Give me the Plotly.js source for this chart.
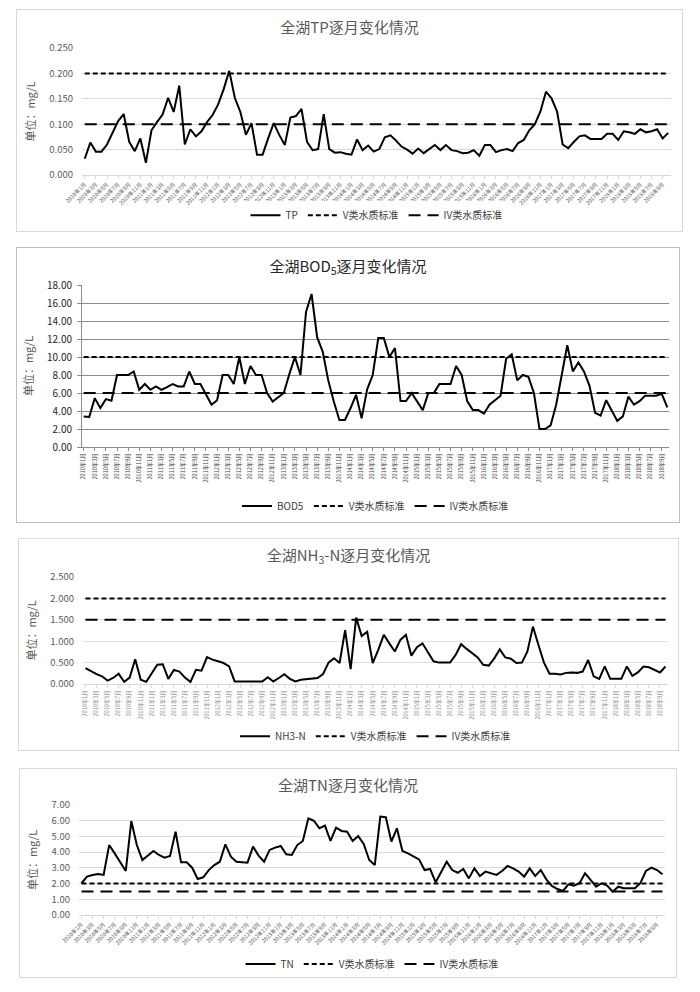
<!DOCTYPE html>
<html><head><meta charset="utf-8">
<script src="https://cdn.plot.ly/plotly-3.0.1.min.js"></script>
<style>
body{margin:0;background:#fff;width:700px;height:992px;position:relative;overflow:hidden}
.panel{position:absolute;box-sizing:border-box;border:1px solid #d9d9d9;background:#fff}
.panel>div{position:absolute;left:0;top:0}
</style></head><body>
<div class="panel" style="left:16px;top:9px;width:667px;height:223px"><div id="c1"></div></div>
<div class="panel" style="left:16px;top:247px;width:664px;height:276px;border-color:#bfbfbf"><div id="c2"></div></div>
<div class="panel" style="left:18px;top:538px;width:661px;height:213px"><div id="c3"></div></div>
<div class="panel" style="left:19px;top:768px;width:658px;height:210px"><div id="c4"></div></div>
<script>
// ---- categories: monthly, 2010年1月 .. 2018年10月 ----
const startYear = 2010, monthCount = 106;
const categories = [];
for (let k = 0; k < monthCount; k++) {
  categories.push((startYear + Math.floor(k / 12)) + '年' + (k % 12 + 1) + '月');
}
const tickLabels = categories.filter((c, k) => k % 2 === 0);

// ---- series values (mg/L) ----
const tpValues = [0.032,0.064,0.046,0.046,0.060,0.083,0.106,0.120,0.065,0.047,0.072,0.024,0.088,0.104,0.119,0.152,0.124,0.176,0.060,0.090,0.076,0.086,0.104,0.118,0.139,0.169,0.205,0.152,0.124,0.079,0.102,0.040,0.040,0.072,0.102,0.079,0.059,0.113,0.116,0.130,0.065,0.049,0.051,0.120,0.051,0.044,0.045,0.042,
0.040,0.070,0.049,0.058,0.046,0.051,0.074,0.078,0.068,0.056,0.050,0.042,0.052,0.043,0.051,0.059,0.049,0.059,0.049,0.047,0.043,0.044,0.049,0.038,0.059,0.059,0.045,0.049,0.051,0.047,0.063,0.069,0.088,0.100,0.125,0.164,0.151,0.125,0.060,0.053,0.065,0.076,0.078,0.071,0.071,0.071,0.081,0.081,0.069,0.086,0.084,0.081,0.090,0.084,0.086,0.090,0.072,0.083];
const bodValues = [3.4,3.33,5.43,4.32,5.32,5.14,8.0,8.0,8.0,8.39,6.36,7.0,6.36,6.73,6.36,6.65,7.0,6.73,6.73,8.39,7.0,7.0,5.9,4.7,5.2,8.0,8.0,7.0,10.0,7.0,9.0,8.0,8.0,6.0,5.06,5.5,6.0,8.1,10.0,8.0,15.0,17.0,12.2,10.6,7.4,5.06,3.0,3.0,4.3,
5.8,3.2,6.4,8.0,12.1,12.1,10.0,11.0,5.1,5.1,6.0,5.1,4.1,6.0,6.0,7.0,7.0,7.0,9.0,8.0,5.1,4.1,4.1,3.7,4.7,5.2,5.7,9.8,10.3,7.4,8.0,7.8,6.0,2.0,2.0,2.4,4.7,8.0,11.3,8.4,9.4,8.4,6.8,3.8,3.5,5.2,4.1,2.9,3.4,5.6,4.7,5.1,5.7,5.7,5.7,5.9,4.4];
const nh3Values = [0.37,0.29,0.23,0.18,0.08,0.14,0.24,0.05,0.15,0.58,0.10,0.05,0.24,0.45,0.46,0.12,0.33,0.29,0.15,0.05,0.33,0.31,0.63,0.57,0.53,0.49,0.41,0.06,0.06,0.06,0.06,0.06,0.06,0.16,0.06,0.14,0.23,0.12,0.06,0.10,0.11,0.12,0.14,0.23,0.50,0.60,0.49,1.26,
0.35,1.55,1.12,1.22,0.49,0.80,1.15,0.95,0.76,1.03,1.15,0.66,0.86,0.95,0.74,0.53,0.50,0.50,0.50,0.68,0.93,0.82,0.72,0.62,0.45,0.43,0.60,0.81,0.62,0.59,0.49,0.50,0.76,1.34,0.91,0.50,0.24,0.24,0.22,0.26,0.27,0.26,0.29,0.56,0.18,0.12,0.41,0.12,0.12,0.12,0.41,0.19,0.27,0.41,0.39,0.33,0.27,0.41];
const tnValues = [2.02,2.44,2.55,2.61,2.55,4.45,3.92,3.35,2.80,5.98,4.45,3.50,3.78,4.07,3.82,3.65,3.75,5.30,3.35,3.35,3.01,2.29,2.40,2.86,3.18,3.39,4.50,3.71,3.39,3.35,3.33,4.35,3.78,3.39,4.14,4.29,4.39,3.86,3.82,4.45,4.71,6.15,6.00,5.52,5.69,4.71,5.56,5.35,5.30,
4.71,5.03,4.52,3.50,3.18,6.26,6.22,4.67,5.52,4.07,3.92,3.71,3.54,2.86,2.93,2.08,2.76,3.39,2.86,2.69,2.93,2.33,2.97,2.48,2.76,2.65,2.55,2.80,3.12,2.97,2.76,2.44,2.97,2.48,2.86,2.27,1.85,1.65,1.53,1.95,1.87,2.02,2.65,2.23,1.80,2.02,1.87,1.48,1.80,1.70,1.70,1.70,2.02,2.80,3.01,2.86,2.59];

// ---- water quality standards (class V / class IV) ----
const tpStandards  = {V: 0.2, IV: 0.1};
const bodStandards = {V: 10,  IV: 6};
const nh3Standards = {V: 2.0, IV: 1.5};
const tnStandards  = {V: 2.0, IV: 1.5};

const FONT = '"Noto Sans CJK SC", "Noto Sans", sans-serif';

function makeChart(id, o) {
  const ends = [categories[0], categories[categories.length - 1]];
  const traces = [
    {x: categories, y: o.values, type: 'scatter', mode: 'lines', name: o.name,
     line: {color: '#000', width: 2}},
    {x: ends, y: [o.std.V, o.std.V], type: 'scatter', mode: 'lines', name: 'V类水质标准',
     line: {color: '#000', width: 2, dash: '5px,3px'}},
    {x: ends, y: [o.std.IV, o.std.IV], type: 'scatter', mode: 'lines', name: 'IV类水质标准',
     line: {color: '#000', width: 2, dash: '12px,7px'}}
  ];
  const layout = {
    width: o.w - 2, height: o.h - 2,
    margin: o.margin,
    paper_bgcolor: '#fff', plot_bgcolor: '#fff',
    showlegend: true,
    font: {family: FONT, color: '#595959'},
    title: {text: o.title, x: 0.5, xanchor: 'center', yref: 'container',
            y: 1 - o.titleY / o.h, yanchor: 'middle',
            font: {family: FONT, size: 15, color: o.titleColor || '#595959'}},
    xaxis: {type: 'category', range: o.xrange, tickmode: 'array',
            tickvals: tickLabels, ticktext: tickLabels, tickangle: o.tickangle,
            tickfont: {size: o.xfont, color: o.xcolor || '#595959'},
            showgrid: false, showline: true, linecolor: o.axisColor, linewidth: 1,
            ticks: 'outside', ticklen: 3, tickcolor: o.axisColor, zeroline: false},
    yaxis: {range: o.yrange, dtick: o.dtick, tick0: 0, tickformat: o.fmt,
            showgrid: true, gridcolor: o.gridColor, gridwidth: 1, zeroline: false,
            showline: !!o.yline, linecolor: o.axisColor,
            ticks: o.yline ? 'outside' : '', ticklen: 4, tickcolor: o.axisColor,
            ticklabelstandoff: o.yline ? 3 : 8,
            tickfont: {size: o.yfont, color: o.ycolor || '#595959'},
            title: {text: '单位：mg/L', standoff: 11, font: {size: 11, color: '#595959'}}},
    legend: {orientation: 'h', x: 0.5, xanchor: 'center', yref: 'container',
             y: 1 - o.legendY / o.h, yanchor: 'middle', itemwidth: 30,
             font: {size: 10, color: '#404040'}, tracegroupgap: 0}
  };
  Plotly.newPlot(id, traces, layout, {displayModeBar: false, staticPlot: true});
}

makeChart('c1', {values: tpValues, std: tpStandards, name: 'TP', title: '全湖TP逐月变化情况',
  w: 667, h: 223, margin: {l: 65, r: 11, t: 38, b: 56}, titleY: 18, legendY: 207,
  xrange: [-0.5, 105.5], tickangle: -45, xfont: 5.5, yrange: [0, 0.25], dtick: 0.05, fmt: '.3f',
  yfont: 9.5, gridColor: '#d9d9d9', axisColor: '#d9d9d9'});

makeChart('c2', {values: bodValues, std: bodStandards, name: 'BOD5', title: '全湖BOD<sub>5</sub>逐月变化情况',
  titleColor: '#262626',
  w: 664, h: 276, margin: {l: 65, r: 10, t: 37, b: 75}, titleY: 19, legendY: 260,
  xrange: [-0.3, 105.3], tickangle: -90, xfont: 5.5, xcolor: '#404040', yrange: [0, 18], dtick: 2, fmt: '.2f',
  yfont: 10, ycolor: '#262626', gridColor: '#8c8c8c', axisColor: '#8c8c8c', yline: true});

makeChart('c3', {values: nh3Values, std: nh3Standards, name: 'NH3-N', title: '全湖NH<sub>3</sub>-N逐月变化情况',
  w: 661, h: 213, margin: {l: 64, r: 10, t: 38, b: 66}, titleY: 17, legendY: 199,
  xrange: [-0.45, 105.45], tickangle: -90, xfont: 5.5, xcolor: '#8c8c8c', yrange: [0, 2.5], dtick: 0.5, fmt: '.3f',
  yfont: 9.5, gridColor: '#e3e3e3', axisColor: '#d9d9d9'});

makeChart('c4', {values: tnValues, std: tnStandards, name: 'TN', title: '全湖TN逐月变化情况',
  w: 658, h: 210, margin: {l: 59, r: 11, t: 36, b: 62}, titleY: 17, legendY: 197,
  xrange: [-0.45, 105.45], tickangle: -45, xfont: 5.5, yrange: [0, 7], dtick: 1, fmt: '.2f',
  yfont: 9.5, gridColor: '#d9d9d9', axisColor: '#d9d9d9'});
</script>
</body></html>
